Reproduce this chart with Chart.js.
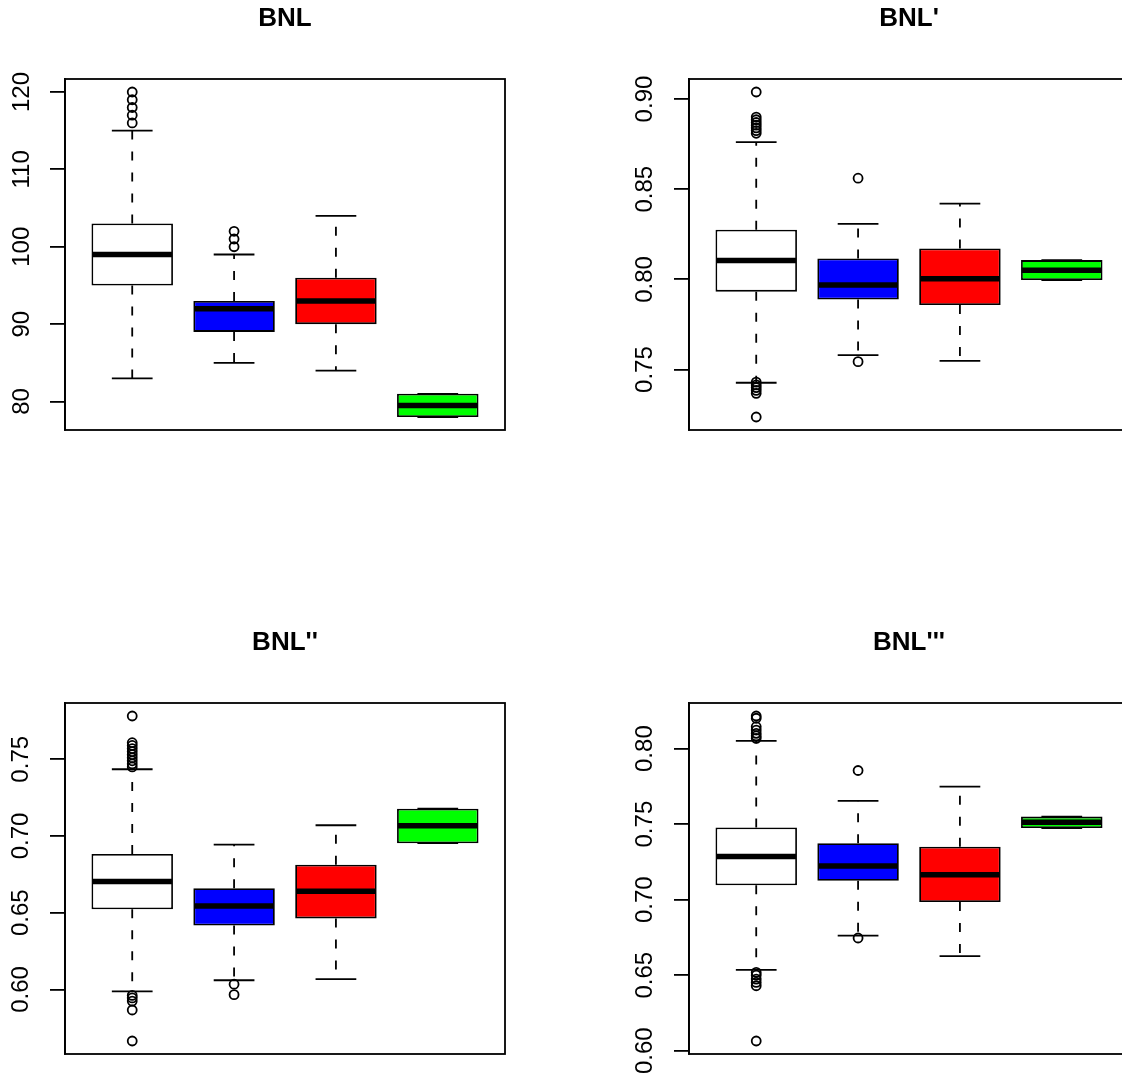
<!DOCTYPE html>
<html>
<head>
<meta charset="utf-8">
<script src="https://cdn.jsdelivr.net/npm/chart.js@4.4.1/dist/chart.umd.min.js"></script>
<style>
  html, body { margin: 0; padding: 0; background: #fff; overflow: hidden; width: 1122px; height: 1076px; position: relative; }
  canvas { position: absolute; }
</style>
</head>
<body>
<canvas id="c1" width="624" height="624" style="left:0px;top:0px"></canvas>
<canvas id="c2" width="624" height="624" style="left:624px;top:0px"></canvas>
<canvas id="c3" width="624" height="624" style="left:0px;top:624px"></canvas>
<canvas id="c4" width="624" height="624" style="left:624px;top:624px"></canvas>
<script>
// ---------------- DATA ----------------
const categories = [1, 2, 3, 4];
const titles = ["BNL", "BNL'", "BNL''", "BNL'''"];

// BNL
const bnlQ1  = [95, 89, 90, 78];
const bnlMed = [99, 92, 93, 79.5];
const bnlQ3  = [103, 93, 96, 81];
const bnlLo  = [83, 85, 84, 78];
const bnlHi  = [115, 99, 104, 81];
const bnlOut = [[116, 117, 118, 119, 120], [100, 101, 102], [], []];
const bnlTicks = [80, 90, 100, 110, 120];
const bnlTickLabels = ['80', '90', '100', '110', '120'];

// BNL'
const bnl1Q1  = [0.7932, 0.7888, 0.7858, 0.7996];
const bnl1Med = [0.8105, 0.7969, 0.8004, 0.8050];
const bnl1Q3  = [0.8275, 0.8116, 0.8171, 0.8107];
const bnl1Lo  = [0.7427, 0.7580, 0.7548, 0.7996];
const bnl1Hi  = [0.8761, 0.8308, 0.8420, 0.8107];
const bnl1Out = [[0.9039, 0.8900, 0.8885, 0.8870, 0.8855, 0.8840, 0.8825, 0.8810,
                  0.7430, 0.7415, 0.7400, 0.7385, 0.7368, 0.7237], [0.8561, 0.7544], [], []];
const bnl1Ticks = [0.75, 0.80, 0.85, 0.90];
const bnl1TickLabels = ['0.75', '0.80', '0.85', '0.90'];

// BNL''
const bnl2Q1  = [0.6523, 0.6417, 0.6463, 0.6953];
const bnl2Med = [0.6703, 0.6543, 0.6640, 0.7067];
const bnl2Q3  = [0.6883, 0.6660, 0.6813, 0.7178];
const bnl2Lo  = [0.5987, 0.6060, 0.6067, 0.6953];
const bnl2Hi  = [0.7435, 0.6944, 0.7070, 0.7178];
const bnl2Out = [[0.7782, 0.7608, 0.7590, 0.7570, 0.7550, 0.7530, 0.7510, 0.7490, 0.7470, 0.7450,
                  0.5961, 0.5945, 0.5924, 0.5866, 0.5664], [0.6034, 0.5966], [], []];
const bnl2Ticks = [0.60, 0.65, 0.70, 0.75];
const bnl2TickLabels = ['0.60', '0.65', '0.70', '0.75'];

// BNL'''
const bnl3Q1  = [0.7095, 0.7125, 0.6984, 0.7474];
const bnl3Med = [0.7286, 0.7222, 0.7165, 0.7513];
const bnl3Q3  = [0.7478, 0.7374, 0.7350, 0.7550];
const bnl3Lo  = [0.6535, 0.6762, 0.6626, 0.7474];
const bnl3Hi  = [0.8051, 0.7654, 0.7749, 0.7550];
const bnl3Out = [[0.8216, 0.8201, 0.8145, 0.8123, 0.8101, 0.8084, 0.8068,
                  0.6518, 0.6500, 0.6474, 0.6452, 0.6430, 0.6064], [0.7855, 0.6746], [], []];
const bnl3Ticks = [0.60, 0.65, 0.70, 0.75, 0.80];
const bnl3TickLabels = ['0.60', '0.65', '0.70', '0.75', '0.80'];

// ---------------- STYLE ----------------
const boxColors = ['#ffffff', '#0000ff', '#ff0000', '#00ff00'];
const FONT = "'Liberation Sans', Arial, Helvetica, sans-serif";
const LW = 1.8;

function makeBoxPlugin(st) {
  return {
    id: 'boxparts',
    afterDatasetsDraw(chart) {
      const { ctx } = chart;
      const x = chart.scales.x, y = chart.scales.y;
      const seg = (x1, y1, x2, y2) => { ctx.beginPath(); ctx.moveTo(x1, y1); ctx.lineTo(x2, y2); ctx.stroke(); };
      ctx.save();
      ctx.strokeStyle = '#000';
      ctx.lineCap = 'butt';
      for (let i = 0; i < categories.length; i++) {
        const xv = categories[i];
        const cx = x.getPixelForValue(xv);
        const bw = x.getPixelForValue(xv + 0.4) - cx;
        const cw = x.getPixelForValue(xv + 0.2) - cx;
        const yq1 = y.getPixelForValue(st.q1[i]);
        const yq3 = y.getPixelForValue(st.q3[i]);
        const ylo = y.getPixelForValue(st.lo[i]);
        const yhi = y.getPixelForValue(st.hi[i]);
        const ymed = y.getPixelForValue(st.med[i]);
        ctx.lineWidth = LW;
        ctx.setLineDash([9, 12]);
        if (Math.abs(yhi - yq3) > 1) seg(cx, yq3, cx, yhi);
        if (Math.abs(ylo - yq1) > 1) seg(cx, yq1, cx, ylo);
        ctx.setLineDash([]);
        seg(cx - cw, yhi, cx + cw, yhi);
        seg(cx - cw, ylo, cx + cw, ylo);
        ctx.lineWidth = 5.5;
        seg(cx - bw + 1, ymed, cx + bw - 1, ymed);
      }
      ctx.restore();
    },
    afterDraw(chart) {
      const { ctx, chartArea: a } = chart;
      ctx.save();
      ctx.strokeStyle = '#000';
      ctx.lineWidth = LW;
      ctx.strokeRect(a.left, a.top, a.right - a.left, a.bottom - a.top);
      ctx.restore();
    }
  };
}

function makeChart(id, title, q1, med, q3, lo, hi, out, ticks, tickLabels, pad) {
  const all = [].concat(lo, hi, q1, q3, ...out);
  const dmin = Math.min(...all), dmax = Math.max(...all);
  const ext = (dmax - dmin) * 0.04;
  const boxData = categories.map((c, i) => ({ x: c, y: [q1[i], q3[i]] }));
  const outData = [];
  categories.forEach((c, i) => out[i].forEach(v => outData.push({ x: c, y: v })));
  return new Chart(document.getElementById(id), {
    type: 'bar',
    data: {
      datasets: [
        {
          type: 'bar',
          data: boxData,
          backgroundColor: boxColors,
          borderColor: '#000',
          borderWidth: LW,
          borderSkipped: false,
          barPercentage: 0.8,
          categoryPercentage: 1.0,
          order: 2
        },
        {
          type: 'scatter',
          data: outData,
          pointRadius: 4.5,
          pointBorderWidth: LW,
          pointBorderColor: '#000',
          pointBackgroundColor: 'rgba(0,0,0,0)',
          order: 1
        }
      ]
    },
    options: {
      responsive: false,
      animation: false,
      devicePixelRatio: 1,
      layout: { padding: { left: 0, top: 0, right: 119, bottom: 194 } },
      plugins: {
        legend: { display: false },
        tooltip: { enabled: false },
        title: {
          display: true,
          text: title,
          fullSize: false,
          color: '#000',
          font: { family: FONT, size: 26, weight: 'bold' },
          padding: { top: 3.4, bottom: 44.4 }
        }
      },
      scales: {
        x: {
          type: 'linear',
          min: 0.34,
          max: 4.66,
          offset: false,
          display: false,
          afterBuildTicks: (sc) => { sc.ticks = categories.map(v => ({ value: v })); }
        },
        y: {
          type: 'linear',
          min: dmin - ext,
          max: dmax + ext,
          afterBuildTicks: (sc) => { sc.ticks = ticks.map(v => ({ value: v })); },
          afterFit: (sc) => { sc.width = 65; },
          grid: { display: true, drawOnChartArea: false, drawTicks: true, tickLength: 15, color: '#000', lineWidth: LW },
          border: { display: true, color: '#000', width: LW },
          ticks: {
            autoSkip: false,
            color: '#000',
            font: { family: FONT, size: 24 },
            minRotation: 90,
            maxRotation: 90,
            crossAlign: 'center',
            padding: pad,
            callback: (v, i) => tickLabels[i]
          }
        }
      }
    },
    plugins: [makeBoxPlugin({ q1, med, q3, lo, hi })]
  });
}

makeChart('c1', titles[0], bnlQ1, bnlMed, bnlQ3, bnlLo, bnlHi, bnlOut, bnlTicks, bnlTickLabels, 8);
makeChart('c2', titles[1], bnl1Q1, bnl1Med, bnl1Q3, bnl1Lo, bnl1Hi, bnl1Out, bnl1Ticks, bnl1TickLabels, 5);
makeChart('c3', titles[2], bnl2Q1, bnl2Med, bnl2Q3, bnl2Lo, bnl2Hi, bnl2Out, bnl2Ticks, bnl2TickLabels, 5);
makeChart('c4', titles[3], bnl3Q1, bnl3Med, bnl3Q3, bnl3Lo, bnl3Hi, bnl3Out, bnl3Ticks, bnl3TickLabels, 5);
</script>
</body>
</html>
